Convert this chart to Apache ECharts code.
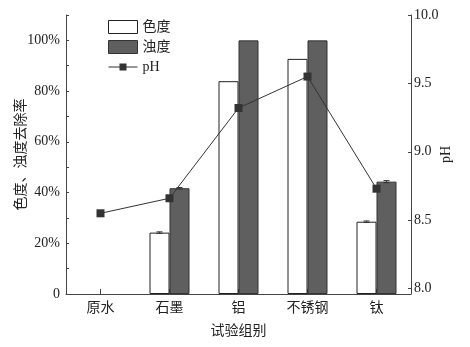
<!DOCTYPE html>
<html>
<head>
<meta charset="utf-8">
<script src="https://cdn.jsdelivr.net/npm/echarts@6/dist/echarts.min.js"></script>
<style>
  html, body { margin: 0; padding: 0; background: #fff; }
  #chart { width: 470px; height: 347px; }
</style>
</head>
<body>
<div id="chart"></div>
<script>
// 数据
const categories = ['原水', '石墨', '铝', '不锈钢', '钛']
const colorRemoval = [0, 24.2, 83.9, 92.7, 28.5]
const turbidityRemoval = [0, 41.7, 100, 100, 44.3]
const colorErr = [0, 0.3, 0, 0, 0.3]
const turbidityErr = [0, 0.3, 0, 0, 0.4]
const phValues = [8.55, 8.66, 9.32, 9.55, 8.73]
const phTicks = [8.0, 8.5, 9.0, 9.5, 10.0]

const font = 'Liberation Serif, "Noto Sans CJK SC"'
const barW = 20

var myChart = echarts.init(document.getElementById('chart'))

// 0 的柱子不画
const noZero = arr => arr.map(v => (v === 0 ? '-' : v))

// 误差线小横杠
function errSeries(name, vals, errs, offset) {
  return {
    name: name + '_err',
    type: 'custom',
    z: 5,
    data: vals.map((v, i) => [i, v, errs[i]]),
    renderItem: function (params, api) {
      const e = api.value(2)
      if (!e) return null
      const hi = api.coord([api.value(0), api.value(1) + e])
      const lo = api.coord([api.value(0), api.value(1) - e])
      const x = hi[0] + offset
      return {
        type: 'group',
        children: [
          { type: 'line', shape: { x1: x - 3, y1: hi[1], x2: x + 3, y2: hi[1] }, style: { stroke: '#333', lineWidth: 1 } },
          { type: 'line', shape: { x1: x - 3, y1: lo[1], x2: x + 3, y2: lo[1] }, style: { stroke: '#333', lineWidth: 1 } },
          { type: 'line', shape: { x1: x, y1: hi[1], x2: x, y2: lo[1] }, style: { stroke: '#333', lineWidth: 1 } }
        ]
      }
    }
  }
}

let option = {
  animation: false,
  grid: { left: 66, right: 59, top: 15, bottom: 53 },
  legend: {
    orient: 'vertical',
    left: 103,
    top: 15,
    itemWidth: 29,
    itemHeight: 13,
    itemGap: 6,
    itemStyle: { borderWidth: 1 },
    data: [
      { name: '色度', icon: 'rect' },
      { name: '浊度', icon: 'rect' },
      { name: 'pH', icon: 'path://M0,6L11,6L11,3L18,3L18,6L29,6L29,7L18,7L18,10L11,10L11,7L0,7Z' }
    ],
    textStyle: { fontFamily: font, fontSize: 14, color: '#222' }
  },
  xAxis: {
    type: 'category',
    data: categories,
    name: '试验组别',
    nameLocation: 'middle',
    nameGap: 30,
    nameMoveOverlap: false,
    nameTextStyle: { fontFamily: font, fontSize: 14, color: '#222' },
    axisLine: { lineStyle: { color: '#444', width: 1 } },
    axisTick: { show: true, inside: true, alignWithLabel: true, length: 5, lineStyle: { color: '#444' } },
    axisLabel: { fontFamily: font, fontSize: 14, color: '#222', margin: 7 }
  },
  yAxis: [
    {
      type: 'value',
      min: 0,
      max: 110,
      interval: 10,
      name: '色度、浊度去除率',
      nameLocation: 'middle',
      nameGap: 38,
      nameMoveOverlap: false,
      nameTextStyle: { fontFamily: font, fontSize: 14, color: '#222' },
      axisLine: { show: true, lineStyle: { color: '#444', width: 1 } },
      axisTick: { show: true, inside: true, length: 3, lineStyle: { color: '#444' } },
      axisLabel: {
        fontFamily: font, fontSize: 14, color: '#222', margin: 6,
        formatter: function (v) {
          if (v % 20 !== 0 || v > 100) return ''
          return v === 0 ? '0' : v + '%'
        }
      },
      splitLine: { show: false }
    },
    {
      type: 'value',
      min: 7.96,
      max: 10,
      position: 'right',
      name: 'pH',
      nameLocation: 'middle',
      nameGap: 28,
      nameRotate: 90,
      nameMoveOverlap: false,
      nameTextStyle: { fontFamily: font, fontSize: 14, color: '#222' },
      axisLine: { show: true, lineStyle: { color: '#444', width: 1 } },
      axisTick: { show: true, inside: true, length: 3, customValues: phTicks, lineStyle: { color: '#444' } },
      axisLabel: {
        fontFamily: font, fontSize: 14, color: '#222', margin: 3,
        customValues: phTicks,
        formatter: v => v.toFixed(1)
      },
      splitLine: { show: false }
    }
  ],
  series: [
    {
      name: '色度',
      type: 'bar',
      data: noZero(colorRemoval),
      barWidth: barW,
      barGap: 0,
      itemStyle: { color: '#fff', borderColor: '#222', borderWidth: 1 }
    },
    {
      name: '浊度',
      type: 'bar',
      data: noZero(turbidityRemoval),
      barWidth: barW,
      barGap: 0,
      itemStyle: { color: '#5f5f5f', borderColor: '#333', borderWidth: 1 }
    },
    errSeries('色度', colorRemoval, colorErr, -barW / 2),
    errSeries('浊度', turbidityRemoval, turbidityErr, barW / 2),
    {
      name: 'pH',
      type: 'line',
      yAxisIndex: 1,
      data: phValues,
      z: 10,
      symbol: 'rect',
      symbolSize: 8,
      lineStyle: { color: '#333', width: 1 },
      itemStyle: { color: '#333' }
    }
  ]
}

myChart.setOption(option)
</script>
</body>
</html>
